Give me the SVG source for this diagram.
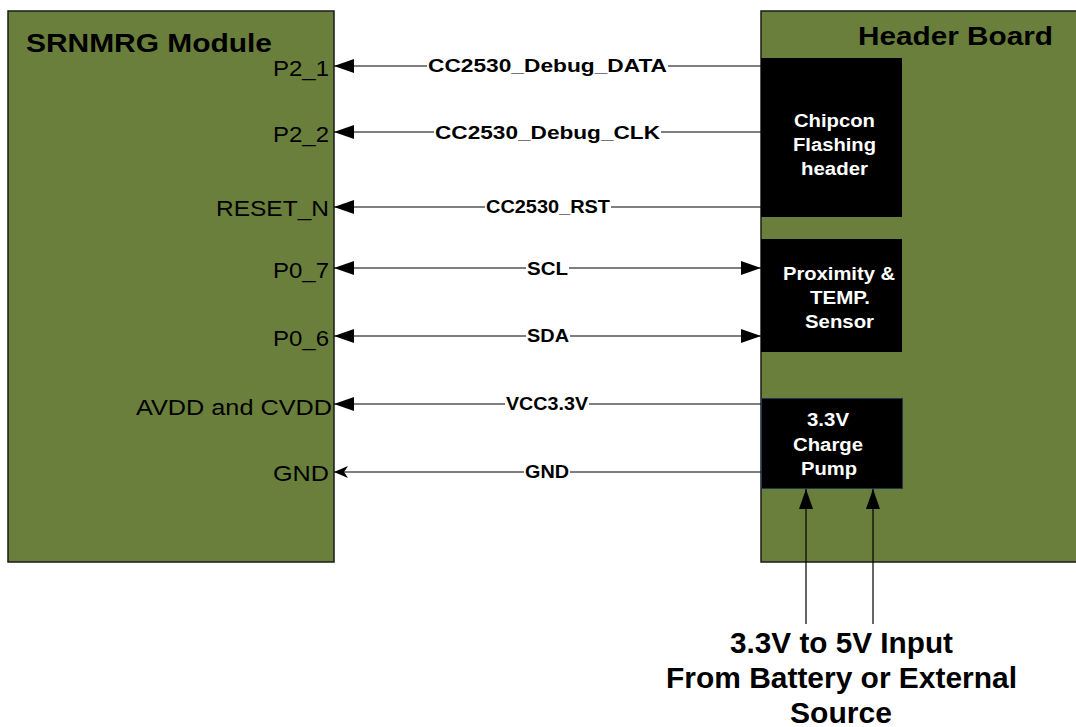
<svg xmlns="http://www.w3.org/2000/svg" width="1076" height="727" viewBox="0 0 1076 727">
<style>
.board{fill:#6a7f3b;stroke:#1a1a1a;stroke-width:1.5}
.blk{fill:#000}
.title{font-family:"Liberation Sans",Arial,sans-serif;font-weight:bold;font-size:25px;fill:#000}
.pin{font-family:"Liberation Sans",Arial,sans-serif;font-size:22px;fill:#000}
.sig{font-family:"Liberation Sans",Arial,sans-serif;font-weight:bold;font-size:19px;fill:#000}
.wt{font-family:"Liberation Sans",Arial,sans-serif;font-weight:bold;font-size:18px;fill:#fff}
.big{font-family:"Liberation Sans",Arial,sans-serif;font-weight:bold;font-size:29px;fill:#000}
.w{stroke:#000;stroke-width:1.2;fill:none}
.lbg{fill:#fff}
</style>
<defs>
<marker id="ah" markerWidth="20" markerHeight="14" refX="20" refY="7" orient="auto-start-reverse" markerUnits="userSpaceOnUse">
<path d="M0,0 L20,7 L0,14 Z" fill="#000"/>
</marker>
<marker id="ah2" markerWidth="14" markerHeight="12" refX="14" refY="6" orient="auto-start-reverse" markerUnits="userSpaceOnUse">
<path d="M0,0 L14,6 L0,12 L4,6 Z" fill="#000"/>
</marker>
</defs>
<rect width="1076" height="727" fill="#fff"/>
<g id="srnmrg">
<rect class="board" x="8" y="11" width="326" height="551"/>
<text class="title" x="26" y="52" textLength="246" lengthAdjust="spacingAndGlyphs">SRNMRG Module</text>
<text class="pin" x="273" y="76" textLength="56" lengthAdjust="spacingAndGlyphs">P2_1</text>
<text class="pin" x="273" y="142" textLength="56" lengthAdjust="spacingAndGlyphs">P2_2</text>
<text class="pin" x="216" y="216" textLength="113" lengthAdjust="spacingAndGlyphs">RESET_N</text>
<text class="pin" x="273" y="278" textLength="56" lengthAdjust="spacingAndGlyphs">P0_7</text>
<text class="pin" x="273" y="346" textLength="56" lengthAdjust="spacingAndGlyphs">P0_6</text>
<text class="pin" x="136" y="415" textLength="196" lengthAdjust="spacingAndGlyphs">AVDD and CVDD</text>
<text class="pin" x="273" y="481" textLength="56" lengthAdjust="spacingAndGlyphs">GND</text>
</g>
<g id="header">
<rect class="board" x="761" y="11" width="330" height="551"/>
<text class="title" x="858" y="45" textLength="195" lengthAdjust="spacingAndGlyphs">Header Board</text>
</g>
<g id="chipcon">
<rect class="blk" x="761" y="58" width="141" height="159"/>
<text class="wt" x="794" y="127" textLength="81" lengthAdjust="spacingAndGlyphs">Chipcon</text>
<text class="wt" x="793" y="151" textLength="83" lengthAdjust="spacingAndGlyphs">Flashing</text>
<text class="wt" x="801" y="175" textLength="67" lengthAdjust="spacingAndGlyphs">header</text>
</g>
<g id="sensor">
<rect class="blk" x="761" y="239" width="141" height="113"/>
<text class="wt" x="783" y="280" textLength="112" lengthAdjust="spacingAndGlyphs">Proximity &amp;</text>
<text class="wt" x="810" y="304" textLength="60" lengthAdjust="spacingAndGlyphs">TEMP.</text>
<text class="wt" x="805" y="328" textLength="69" lengthAdjust="spacingAndGlyphs">Sensor</text>
</g>
<g id="pump">
<rect class="blk" x="761.5" y="398.5" width="141" height="90" stroke="#1f3550" stroke-width="1"/>
<text class="wt" x="807" y="426" textLength="42" lengthAdjust="spacingAndGlyphs">3.3V</text>
<text class="wt" x="793" y="451" textLength="70" lengthAdjust="spacingAndGlyphs">Charge</text>
<text class="wt" x="801" y="475" textLength="56" lengthAdjust="spacingAndGlyphs">Pump</text>
</g>
<g id="connectors">
<line class="w" x1="761" y1="66" x2="334" y2="66" marker-end="url(#ah)"/>
<line class="w" x1="761" y1="132" x2="334" y2="132" marker-end="url(#ah)"/>
<line class="w" x1="761" y1="207" x2="334" y2="207" marker-end="url(#ah)"/>
<line class="w" x1="761" y1="268" x2="334" y2="268" marker-start="url(#ah)" marker-end="url(#ah)"/>
<line class="w" x1="761" y1="336" x2="334" y2="336" marker-start="url(#ah)" marker-end="url(#ah)"/>
<line class="w" x1="761" y1="404" x2="334" y2="404" marker-end="url(#ah)"/>
<line class="w" x1="761" y1="472" x2="334" y2="472" marker-end="url(#ah2)"/>
<line class="w" x1="806" y1="624" x2="806" y2="489" marker-end="url(#ah)"/>
<line class="w" x1="873" y1="624" x2="873" y2="489" marker-end="url(#ah)"/>
<rect class="lbg" x="427" y="56" width="241" height="20"/>
<text class="sig" x="428" y="72" textLength="239" lengthAdjust="spacingAndGlyphs">CC2530_Debug_DATA</text>
<rect class="lbg" x="434" y="122" width="227" height="20"/>
<text class="sig" x="435" y="139" textLength="225" lengthAdjust="spacingAndGlyphs">CC2530_Debug_CLK</text>
<rect class="lbg" x="485" y="197" width="126" height="20"/>
<text class="sig" x="486" y="213" textLength="124" lengthAdjust="spacingAndGlyphs">CC2530_RST</text>
<rect class="lbg" x="526" y="258" width="43" height="20"/>
<text class="sig" x="527" y="275" textLength="41" lengthAdjust="spacingAndGlyphs">SCL</text>
<rect class="lbg" x="526" y="326" width="44" height="20"/>
<text class="sig" x="527" y="342" textLength="42" lengthAdjust="spacingAndGlyphs">SDA</text>
<rect class="lbg" x="505" y="394" width="84" height="20"/>
<text class="sig" x="506" y="410" textLength="82" lengthAdjust="spacingAndGlyphs">VCC3.3V</text>
<rect class="lbg" x="524" y="462" width="46" height="20"/>
<text class="sig" x="525" y="478" textLength="44" lengthAdjust="spacingAndGlyphs">GND</text>
</g>
<g id="input">
<text class="big" x="730" y="653" textLength="223" lengthAdjust="spacingAndGlyphs">3.3V to 5V Input</text>
<text class="big" x="666" y="688" textLength="351" lengthAdjust="spacingAndGlyphs">From Battery or External</text>
<text class="big" x="790" y="723" textLength="102" lengthAdjust="spacingAndGlyphs">Source</text>
</g>
</svg>
